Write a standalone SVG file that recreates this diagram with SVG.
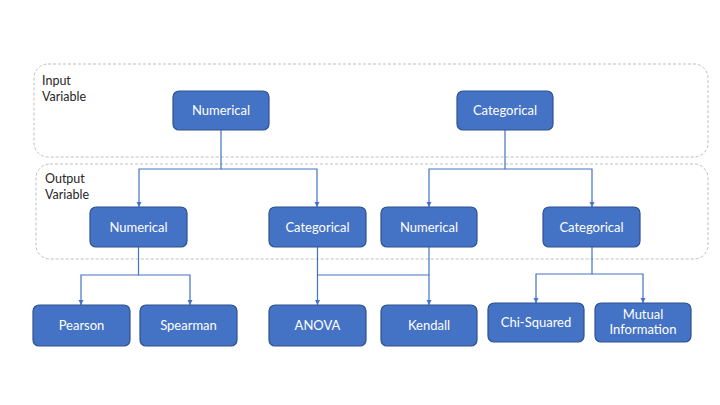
<svg xmlns="http://www.w3.org/2000/svg" width="720" height="405" viewBox="0 0 720 405">
<defs>
<marker id="arr" markerWidth="6" markerHeight="6" refX="5" refY="3" orient="auto" markerUnits="userSpaceOnUse">
<path d="M0,0.5 L5,3 L0,5.5 Z" fill="#4472C4"/>
</marker>
<style>
.box{fill:#4472C4;stroke:#2F528F;stroke-width:1.2}
.lbl{fill:#fff;font-family:Lato,"Open Sans","Liberation Sans",sans-serif;font-size:13px;text-anchor:middle}
.cont{fill:none;stroke:#BFBFBF;stroke-width:1;stroke-dasharray:3,2}
.ctxt{fill:#262626;font-family:Lato,"Open Sans","Liberation Sans",sans-serif;font-size:12.5px}
.conn{fill:none;stroke:#4472C4;stroke-width:1.2}
</style>
</defs>
<rect width="720" height="405" fill="#fff"/>
<g id="input-container">
<rect class="cont" x="34" y="64" width="674" height="93" rx="14"/>
<text class="ctxt" x="42" y="85">Input</text>
<text class="ctxt" x="42" y="101">Variable</text>
</g>
<g id="output-container">
<rect class="cont" x="36" y="164" width="672" height="95" rx="14"/>
<text class="ctxt" x="45" y="183">Output</text>
<text class="ctxt" x="45" y="199">Variable</text>
</g>
<g id="connectors">
<path class="conn" d="M221,130 V169 H139 V207" marker-end="url(#arr)"/>
<path class="conn" d="M221,169 H317 V207" marker-end="url(#arr)"/>
<path class="conn" d="M505,130 V169 H429 V207" marker-end="url(#arr)"/>
<path class="conn" d="M505,169 H592 V207" marker-end="url(#arr)"/>
<path class="conn" d="M138.5,247 V275 H81 V305" marker-end="url(#arr)"/>
<path class="conn" d="M138.5,275 H190 V305" marker-end="url(#arr)"/>
<path class="conn" d="M317.5,247 V305" marker-end="url(#arr)"/>
<path class="conn" d="M317.5,275 H429" />
<path class="conn" d="M429,247 V305" marker-end="url(#arr)"/>
<path class="conn" d="M592,247 V274 H536 V303" marker-end="url(#arr)"/>
<path class="conn" d="M592,274 H643 V303" marker-end="url(#arr)"/>
</g>
<g id="in-numerical"><rect class="box" x="173" y="91" width="96" height="39" rx="6"/><text class="lbl" x="221" y="115">Numerical</text></g>
<g id="in-categorical"><rect class="box" x="457" y="91" width="96" height="39" rx="6"/><text class="lbl" x="505" y="115">Categorical</text></g>
<g id="out-numerical-1"><rect class="box" x="90" y="207" width="97" height="40" rx="6"/><text class="lbl" x="138.5" y="231.5">Numerical</text></g>
<g id="out-categorical-1"><rect class="box" x="269" y="207" width="97" height="40" rx="6"/><text class="lbl" x="317.5" y="231.5">Categorical</text></g>
<g id="out-numerical-2"><rect class="box" x="381" y="207" width="96" height="40" rx="6"/><text class="lbl" x="429" y="231.5">Numerical</text></g>
<g id="out-categorical-2"><rect class="box" x="543" y="207" width="97" height="40" rx="6"/><text class="lbl" x="591.5" y="231.5">Categorical</text></g>
<g id="pearson"><rect class="box" x="33" y="305" width="97" height="41" rx="6"/><text class="lbl" x="81.5" y="330">Pearson</text></g>
<g id="spearman"><rect class="box" x="140" y="305" width="97" height="41" rx="6"/><text class="lbl" x="188.5" y="330">Spearman</text></g>
<g id="anova"><rect class="box" x="269" y="305" width="97" height="41" rx="6"/><text class="lbl" x="317.5" y="330">ANOVA</text></g>
<g id="kendall"><rect class="box" x="381" y="305" width="96" height="41" rx="6"/><text class="lbl" x="429" y="330">Kendall</text></g>
<g id="chi-squared"><rect class="box" x="488" y="303" width="96" height="39" rx="6"/><text class="lbl" x="536" y="327">Chi-Squared</text></g>
<g id="mutual-information"><rect class="box" x="595" y="303" width="96" height="39" rx="6"/><text class="lbl" x="643" y="319">Mutual</text><text class="lbl" x="643" y="334">Information</text></g>
</svg>
